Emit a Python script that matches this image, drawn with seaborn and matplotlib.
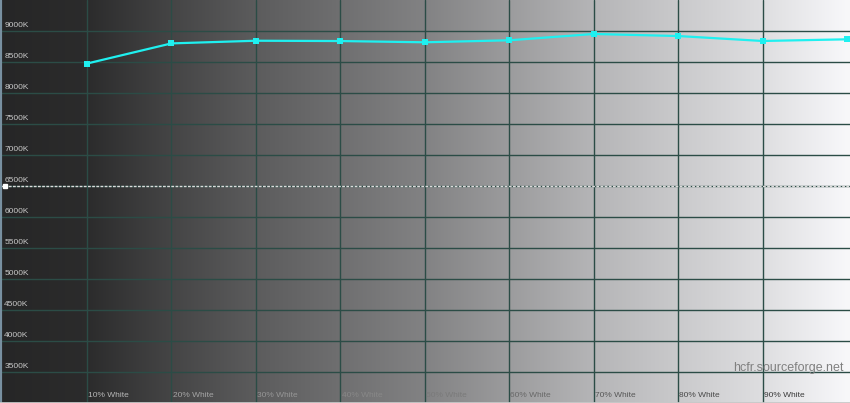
import numpy as np
import seaborn as sns
import matplotlib.pyplot as plt
from matplotlib.transforms import blended_transform_factory

# colour temperature per grey level
levels = [10, 20, 30, 40, 50, 60, 70, 80, 90, 100]
temps = [8475, 8800, 8843, 8838, 8818, 8850, 8952, 8919, 8839, 8866]
level_labels = ['10% White', '20% White', '30% White', '40% White', '50% White',
                '60% White', '70% White', '80% White', '90% White']
ytick_vals = [3500, 4000, 4500, 5000, 5500, 6000, 6500, 7000, 7500, 8000, 8500, 9000]
ytick_labels = ['3500K', '4000K', '4500K', '5000K', '5500K', '6000K',
                '6500K', '7000K', '7500K', '8000K', '8500K', '9000K']
target = 6500

sns.set_style('white')
plt.rcParams['font.family'] = ['Liberation Sans', 'DejaVu Sans']

fig = plt.figure(figsize=(8.5, 4.03), dpi=100)
ax = fig.add_axes([0, 0, 1, 1])
x0, x1 = -0.30, 100.36
y0, y1 = 3000, 9500

# grey ramp background (dark -> white)
ramp_pts = [0, 10, 20, 30, 50, 70, 90, 100]
ramp_val = [0.15, 0.17, 0.27, 0.36, 0.51, 0.71, 0.87, 0.97]
ramp_x = np.linspace(x0, x1, 850)
shade = np.interp(ramp_x, ramp_pts, ramp_val)
bg = np.dstack([shade, shade, shade * 1.01]).clip(0, 1)
ax.imshow(bg, extent=[x0, x1, y0, y1], aspect='auto', zorder=0)

# grid
for v in ytick_vals:
    ax.axhline(v, color='#2b4c46', lw=1, zorder=1)
for lv in levels[:-1]:
    ax.axvline(lv, color='#2b4c46', lw=1, zorder=1)

# target line
ax.axhline(target, color='#dcdcdc', lw=1, ls=(0, (2, 1)), zorder=2)
ax.plot([0.25], [target], marker='s', markersize=3.5, color='white', zorder=3)

sns.lineplot(x=levels, y=temps, ax=ax, color='#1ff0f0', lw=1.6, marker='s',
             markersize=5, markeredgewidth=0, zorder=4)

ax.set_xlim(x0, x1)
ax.set_ylim(y0, y1)
ax.set_xticks([])
ax.set_yticks([])
for s in ['top', 'right']:
    ax.spines[s].set_visible(False)
ax.spines['left'].set_color('#7890a0')
ax.spines['left'].set_linewidth(3)
ax.spines['bottom'].set_color('#c8c8c8')
ax.spines['bottom'].set_linewidth(2)

# y labels sit just above their grid line
tr = blended_transform_factory(ax.transAxes, ax.transData)
for v, lab in zip(ytick_vals, ytick_labels):
    ax.text(0.005, v + 40, lab, transform=tr, fontsize=6, color='#c8c8c8',
            ha='left', va='bottom', zorder=5)

# x labels: colour roughly inverse of the background under them
for lv, lab in zip(levels, level_labels):
    g = np.interp(lv + 2, ramp_pts, ramp_val)
    c = g + (1 - 2 * g) * 0.85
    ax.text(lv + 0.15, y0 + 60, lab, fontsize=6, color=(c, c, c), ha='left', va='bottom', zorder=5)

ax.text(99.6, 3560, 'hcfr.sourceforge.net', fontsize=9, color='#808080',
        ha='right', va='center', zorder=5)

fig.savefig('out.png', dpi=100)
